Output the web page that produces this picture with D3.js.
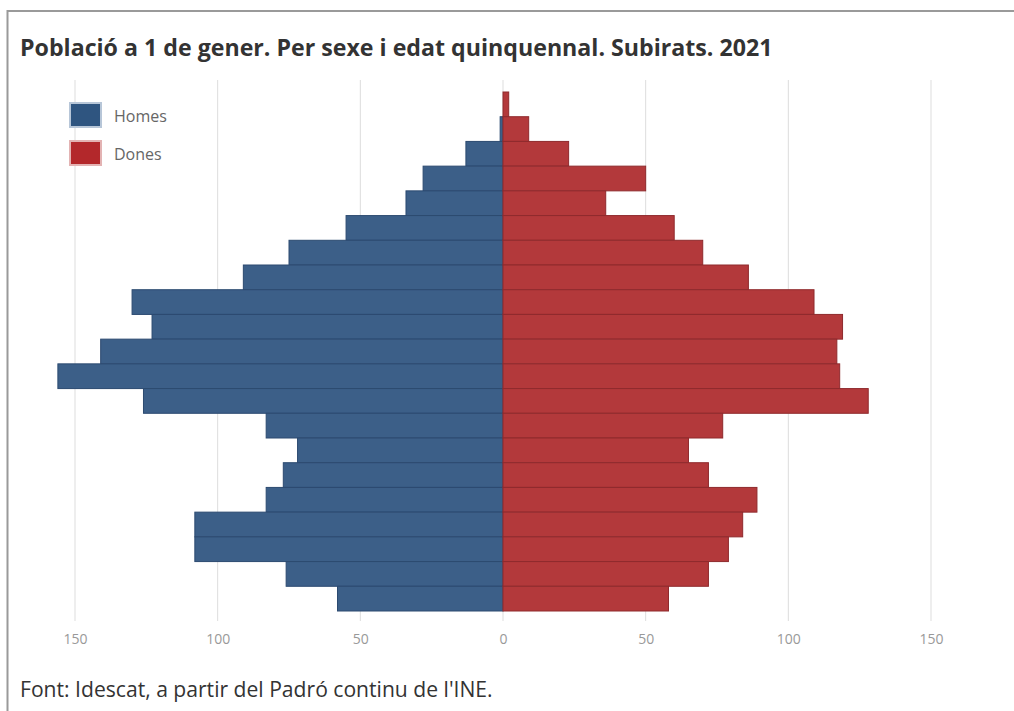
<!DOCTYPE html>
<html>
<head>
<meta charset="utf-8">
<script src="https://cdn.jsdelivr.net/npm/d3@7"></script>
<style>
  body { margin: 0; background: #fff; }
  svg { display: block; }
  .tick text { fill: #999; }
</style>
</head>
<body>
<div id="chart"></div>
<script>
// age groups, oldest first (top of the pyramid)
const ageGroups = ["100+", "95-99", "90-94", "85-89", "80-84", "75-79", "70-74", "65-69",
  "60-64", "55-59", "50-54", "45-49", "40-44", "35-39", "30-34", "25-29",
  "20-24", "15-19", "10-14", "5-9", "0-4"];
const homes = [0, 1, 13, 28, 34, 55, 75, 91, 130, 123, 141, 156, 126, 83, 72, 77, 83, 108, 108, 76, 58];
const dones = [2, 9, 23, 50, 36, 60, 70, 86, 109, 119, 117, 118, 128, 77, 65, 72, 89, 84, 79, 72, 58];
const tickValues = [-150, -100, -50, 0, 50, 100, 150];

const width = 1014, height = 711;
const colors = { homes: "#3c5f88", dones: "#b3393b" };
const strokes = { homes: "#2c4a70", dones: "#8f2a2d" };

const svg = d3.select("#chart").append("svg")
  .attr("width", width).attr("height", height);

// frame
svg.append("path").attr("d", "M7.5,711 V11 H1014")
  .attr("fill", "none").attr("stroke", "#9a9a9a").attr("stroke-width", 2);

const x = d3.scaleLinear().domain([-150, 150]).range([75, 931]);
const y = d3.scaleBand().domain(ageGroups).range([92, 611]).padding(0);

// grid
svg.append("g").selectAll("line").data(tickValues).join("line")
  .attr("x1", d => x(d)).attr("x2", d => x(d))
  .attr("y1", 80).attr("y2", 621)
  .attr("stroke", "#dddddd").attr("stroke-width", 1);

const rows = ageGroups.map((g, i) => ({ group: g, homes: homes[i], dones: dones[i] }));

svg.append("g").selectAll("rect").data(rows).join("rect")
  .attr("x", d => x(-d.homes)).attr("width", d => x(0) - x(-d.homes))
  .attr("y", d => y(d.group)).attr("height", y.bandwidth())
  .attr("fill", colors.homes).attr("stroke", strokes.homes).attr("stroke-width", 1)
  .attr("display", d => d.homes > 0 ? null : "none");

svg.append("g").selectAll("rect").data(rows).join("rect")
  .attr("x", x(0)).attr("width", d => x(d.dones) - x(0))
  .attr("y", d => y(d.group)).attr("height", y.bandwidth())
  .attr("fill", colors.dones).attr("stroke", strokes.dones).attr("stroke-width", 1)
  .attr("display", d => d.dones > 0 ? null : "none");

// axis
const axis = svg.append("g").attr("transform", "translate(0,628)")
  .call(d3.axisBottom(x).tickValues(tickValues).tickSize(0).tickPadding(6)
    .tickFormat(d => Math.abs(d)));
axis.select(".domain").remove();
axis.selectAll("text").attr("font-family", "'Open Sans', sans-serif").attr("font-size", 14);

// title
function fitText(sel, target) {
  const w = sel.node().getComputedTextLength();
  const fs = +sel.attr("font-size");
  sel.attr("font-size", fs * target / w);
}

const title = svg.append("text").attr("x", 20).attr("y", 56)
  .attr("font-family", "'Open Sans', sans-serif").attr("font-weight", "bold")
  .attr("font-size", 20).attr("fill", "#333")
  .text("Població a 1 de gener. Per sexe i edat quinquennal. Subirats. 2021");
fitText(title, 753);

// legend
const legend = [
  { label: "Homes", fill: "#2f5580", outline: "#b7c6d8", y: 103 },
  { label: "Dones", fill: "#b3282b", outline: "#e3b3b3", y: 141 }
];
const lg = svg.append("g").selectAll("g").data(legend).join("g");
lg.append("rect").attr("x", 70).attr("y", d => d.y).attr("width", 31).attr("height", 24)
  .attr("fill", d => d.fill).attr("stroke", d => d.outline).attr("stroke-width", 2);
lg.append("text").attr("x", 114).attr("y", d => d.y + 19)
  .attr("font-family", "'Open Sans', sans-serif").attr("font-size", 16).attr("fill", "#666")
  .text(d => d.label);

// footer
const foot = svg.append("text").attr("x", 20).attr("y", 697)
  .attr("font-family", "'Open Sans', sans-serif").attr("font-size", 16).attr("fill", "#333")
  .text("Font: Idescat, a partir del Padró continu de l'INE.");
fitText(foot, 473);
</script>
</body>
</html>
